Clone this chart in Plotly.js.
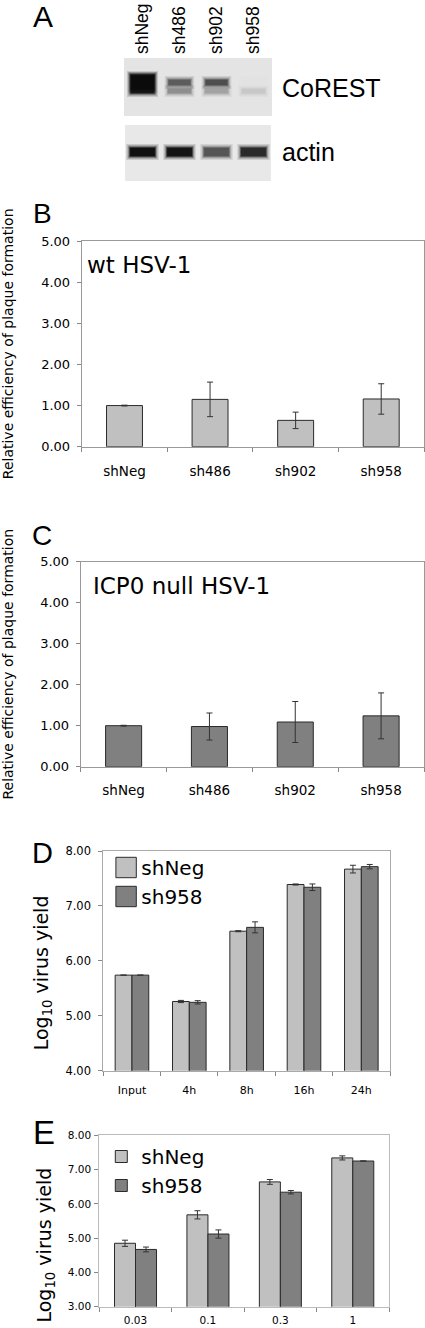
<!DOCTYPE html>
<html><head><meta charset="utf-8">
<script src="https://cdn.plot.ly/plotly-3.0.1.min.js"></script>
<style>html,body{margin:0;padding:0;background:#fff;} #chart{width:425px;height:1328px;}</style>
</head><body>
<div id="chart"></div>
<script>
// ---- Panel A: western blot ----
const lanes = ['shNeg','sh486','sh902','sh958'];
const blotRows = ['CoREST','actin'];
const corestUpperShade = ['#0b0b0b','#5c5c5c','#4e4e4e','#e2e2e2'];
const corestLowerShade = ['#1a1a1a','#8e8e8e','#a2a2a2','#c8c8c8'];
const actinShade = ['#101010','#141414','#555555','#2a2a2a'];

// ---- Panel B: wt HSV-1 ----
const shCats = ['shNeg','sh486','sh902','sh958'];
const wtEff = [1.00, 1.15, 0.64, 1.16];
const wtErr = [0.01, 0.42, 0.20, 0.37];

// ---- Panel C: ICP0 null HSV-1 ----
const icp0Eff = [1.00, 0.98, 1.09, 1.24];
const icp0Err = [0.01, 0.33, 0.50, 0.56];

// ---- Panel D: time course ----
const timeCats = ['Input','4h','8h','16h','24h'];
const dShNeg = [5.74, 5.26, 6.54, 7.39, 7.67];
const dShNegErr = [0, 0.02, 0.01, 0.01, 0.07];
const dSh958 = [5.74, 5.245, 6.61, 7.34, 7.715];
const dSh958Err = [0, 0.03, 0.10, 0.06, 0.04];

// ---- Panel E: MOI ----
const moiCats = ['0.03','0.1','0.3','1'];
const eShNeg = [4.85, 5.68, 6.64, 7.34];
const eShNegErr = [0.09, 0.12, 0.07, 0.06];
const eSh958 = [4.67, 5.12, 6.34, 7.25];
const eSh958Err = [0.07, 0.12, 0.05, 0];

const W = 425, H = 1328;
const px = v => v / W;
const py = v => 1 - v / H;
const FONT = 'DejaVu Sans, sans-serif';
const AFONT = 'Liberation Sans, Arial, sans-serif';
const light = '#c0c0c0', dark = '#808080', outline = '#2a2a2a';
const NB = '\u00A0', ZW = '\u200B';

function errY(arr) { return {type:'data', array: arr, visible:true, color:'#333', thickness:1, width:3}; }

const data = [
  {type:'bar', x: shCats, y: wtEff, error_y: errY(wtErr), width: 0.42,
   marker:{color: light, line:{color: outline, width:1}}, xaxis:'x', yaxis:'y', showlegend:false, name:'wt HSV-1'},
  {type:'bar', x: shCats, y: icp0Eff, error_y: errY(icp0Err), width: 0.42,
   marker:{color: dark, line:{color: outline, width:1}}, xaxis:'x2', yaxis:'y2', showlegend:false, name:'ICP0 null HSV-1'},
  {type:'bar', x: timeCats, y: dShNeg, error_y: errY(dShNegErr), width: 0.293, offset: -0.293,
   marker:{color: light, line:{color: outline, width:1}}, xaxis:'x3', yaxis:'y3', name:'shNeg', legend:'legend'},
  {type:'bar', x: timeCats, y: dSh958, error_y: errY(dSh958Err), width: 0.293, offset: 0,
   marker:{color: dark, line:{color: outline, width:1}}, xaxis:'x3', yaxis:'y3', name:'sh958', legend:'legend'},
  {type:'bar', x: moiCats, y: eShNeg, error_y: errY(eShNegErr), width: 0.29, offset: -0.29,
   marker:{color: light, line:{color: outline, width:1}}, xaxis:'x4', yaxis:'y4', name:'shNeg', legend:'legend2'},
  {type:'bar', x: moiCats, y: eSh958, error_y: errY(eSh958Err), width: 0.29, offset: 0,
   marker:{color: dark, line:{color: outline, width:1}}, xaxis:'x4', yaxis:'y4', name:'sh958', legend:'legend2'},
  {type:'scatter', mode:'markers', x: lanes, y: lanes.map(() => 0), marker:{opacity:0},
   xaxis:'x5', yaxis:'y5', showlegend:false, hoverinfo:'skip'}
];

// blot shapes: backgrounds, then each band drawn as soft layered rectangles
const shapes = [
  {type:'rect', xref:'x5', yref:'y5', x0:-0.5, x1:3.5, y0:0, y1:58, fillcolor:'#e4e4e4', line:{width:0}},
  {type:'rect', xref:'x5', yref:'y5', x0:-0.47, x1:3.47, y0:67, y1:123, fillcolor:'#e8e8e8', line:{width:0}}
];
const PXU = 1 / 37; // one pixel in lane units
function band(cx, hw, y0, y1, color) {
  [[4, 0.14], [2.6, 0.28], [1.4, 0.5], [0.5, 0.75], [0, 1]].forEach(([g, op]) => {
    shapes.push({type:'rect', xref:'x5', yref:'y5', x0: cx - hw - g * PXU, x1: cx + hw + g * PXU,
      y0: y0 - g, y1: y1 + g, fillcolor: color, opacity: op, line:{width:0}});
  });
}
lanes.forEach((l, i) => {
  if (i === 0) {
    band(i, 0.31, 17, 35, corestLowerShade[i]);
    band(i, 0.29, 18, 31, corestUpperShade[i]);
  } else {
    band(i, 0.3, 31, 35, corestLowerShade[i]);
    band(i, 0.29, 22, 27, corestUpperShade[i]);
  }
  band(i, 0.33, 90, 98, actinShade[i]);
});

function yAx(dom, range, tickSize, standoffLbl, title, titleSize, titleStandoff, anchor, lc) {
  return {domain: dom, anchor: anchor, range: range, dtick: 1, tickformat: '.2f', ticks:'outside', ticklen:4,
    tickcolor:'#888', showline:true, linecolor: lc, mirror:true, showgrid:false, zeroline:false,
    tickfont:{size: tickSize, family: FONT, color:'#000'}, ticklabelstandoff: standoffLbl, fixedrange:true,
    title:{text: title, font:{size: titleSize, family: FONT, color:'#000'}, standoff: titleStandoff}};
}
function xAx(dom, n, tickSize, standoffLbl, anchor, lc) {
  return {domain: dom, anchor: anchor, type:'category', range:[-0.5, n - 0.5], tickson:'boundaries',
    ticks:'outside', ticklen:4, tickcolor:'#888', showline:true, linecolor: lc, mirror:true, showgrid:false,
    tickfont:{size: tickSize, family: FONT, color:'#000'}, ticklabelstandoff: standoffLbl, fixedrange:true};
}

const relTitle = 'Relative efficiency of plaque formation';
const logTitleD = 'Log<sub>10</sub> virus yield' + NB.repeat(4) + ZW;
const logTitleE = 'Log<sub>10</sub> virus yield' + NB.repeat(8) + ZW;

const layout = {
  width: W, height: H, margin:{l:0, r:0, t:0, b:0}, paper_bgcolor:'#fff', plot_bgcolor:'#fff',
  font:{family: FONT, color:'#000'}, barmode:'group', showlegend:true,
  xaxis: xAx([px(81.7), px(424)], 4, 13.5, 12, 'y', '#999'),
  yaxis: yAx([py(446.7), py(241)], [0, 5], 13, 4, relTitle, 14, 24, 'x', '#999'),
  xaxis2: xAx([px(80.7), px(424)], 4, 13.5, 11, 'y2', '#999'),
  yaxis2: yAx([py(766.7), py(561.7)], [0, 5], 13, 4, relTitle, 14, 24, 'x2', '#999'),
  xaxis3: xAx([px(103.3), px(390)], 5, 11, 9, 'y3', '#aaa'),
  yaxis3: yAx([py(1070.7), py(851)], [4, 8], 11.5, 5, logTitleD, 19, 11, 'x3', '#aaa'),
  xaxis4: xAx([px(99.3), px(389)], 4, 10.5, 4, 'y4', '#bbb'),
  yaxis4: yAx([py(1306.7), py(1135.3)], [3, 8], 10.5, 1, logTitleE, 19, 11, 'x4', '#bbb'),
  xaxis5: {domain:[px(124), px(272)], anchor:'y5', side:'top', type:'category', range:[-0.5, 3.5],
    ticks:'', tickangle:-90, showline:false, showgrid:false, zeroline:false, ticklabelstandoff:3,
    tickfont:{size:17.5, family: AFONT, color:'#000'}, fixedrange:true},
  yaxis5: {domain:[py(181), py(58)], anchor:'x5', side:'right', range:[123, 0], tickmode:'array',
    tickvals:[30, 94.5], ticktext: blotRows, ticks:'', showline:false, showgrid:false, zeroline:false,
    ticklabelstandoff:9, tickfont:{size:25, family: AFONT, color:'#000'}, fixedrange:true},
  legend: {x: px(101.3), y: py(848), xanchor:'left', yanchor:'top', bgcolor:'rgba(0,0,0,0)', borderwidth:0,
    font:{size:20, family: FONT, color:'#000'}, tracegroupgap:0},
  legend2: {x: px(101.3), y: py(1137), xanchor:'left', yanchor:'top', bgcolor:'rgba(0,0,0,0)', borderwidth:0,
    font:{size:20, family: FONT, color:'#000'}, tracegroupgap:0},
  shapes: shapes,
  annotations: [
    {text:'A', xref:'paper', yref:'paper', x: px(31), y: py(16), xanchor:'left', yanchor:'middle', showarrow:false, font:{size:30, family: AFONT, color:'#000'}},
    {text:'B', xref:'paper', yref:'paper', x: px(31), y: py(213), xanchor:'left', yanchor:'middle', showarrow:false, font:{size:28, family: AFONT, color:'#000'}},
    {text:'C', xref:'paper', yref:'paper', x: px(30), y: py(535), xanchor:'left', yanchor:'middle', showarrow:false, font:{size:28, family: AFONT, color:'#000'}},
    {text:'D', xref:'paper', yref:'paper', x: px(30), y: py(852.5), xanchor:'left', yanchor:'middle', showarrow:false, font:{size:29, family: AFONT, color:'#000'}},
    {text:'E', xref:'paper', yref:'paper', x: px(31), y: py(1132.5), xanchor:'left', yanchor:'middle', showarrow:false, font:{size:33, family: AFONT, color:'#000'}},
    {text:'wt HSV-1', xref:'paper', yref:'paper', x: px(85), y: py(264.5), xanchor:'left', yanchor:'middle', showarrow:false, font:{size:23, family: FONT, color:'#000'}},
    {text:'ICP0 null HSV-1', xref:'paper', yref:'paper', x: px(91), y: py(585.5), xanchor:'left', yanchor:'middle', showarrow:false, font:{size:23, family: FONT, color:'#000'}}
  ]
};

Plotly.newPlot('chart', data, layout, {staticPlot:true, displayModeBar:false}).then(gd => {
  // enlarge legend swatches to the reference's size and keep them just left of their text
  gd.querySelectorAll('g.traces').forEach(tr => {
    const p = tr.querySelector('.legendpoints path');
    const t = tr.querySelector('text.legendtext');
    if (!p || !t) return;
    const orig = p.getAttribute('transform') || '';
    p.setAttribute('vector-effect', 'non-scaling-stroke');
    p.setAttribute('transform', orig + ' scale(1.7)');
    const pr = p.getBoundingClientRect(), tb = t.getBoundingClientRect();
    const dx = (tb.left - 5) - pr.right;
    p.setAttribute('transform', orig + ' translate(' + dx.toFixed(1) + ',0) scale(1.7)');
  });
});
</script>
</body></html>
